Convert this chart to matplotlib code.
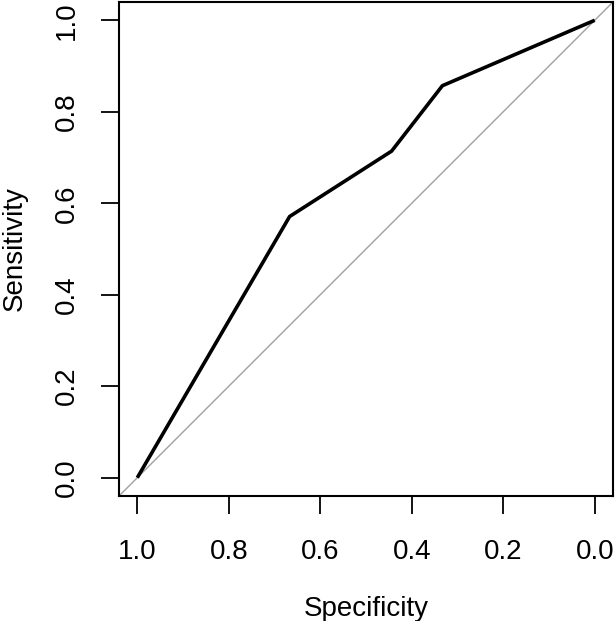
import matplotlib
matplotlib.use("Agg")
import matplotlib.pyplot as plt

specificity = [1.0, 0.667, 0.444, 0.333, 0.0]
sensitivity = [0.0, 0.571, 0.714, 0.857, 1.0]
ticks = [1.0, 0.8, 0.6, 0.4, 0.2, 0.0]
tick_labels = ["1.0", "0.8", "0.6", "0.4", "0.2", "0.0"]

plt.rcParams['font.family'] = ['Liberation Sans', 'DejaVu Sans']

fig = plt.figure(figsize=(6.15, 6.21), dpi=100)
W, H = 615, 621
ax = fig.add_axes([119/W, 1-496/H, (613-119)/W, (496-2)/H])

ax.set_xlim(1.04, -0.04)
ax.set_ylim(-0.04, 1.04)
ax.axline((1, 0), (0, 1), color='#a0a0a0', lw=1.0, zorder=1)
ax.plot(specificity, sensitivity, color='black', lw=2.6, zorder=2, solid_capstyle='butt')

ax.set_xticks(ticks)
ax.set_xticklabels(tick_labels)
ax.set_yticks(ticks)
ax.set_yticklabels(tick_labels, rotation=90, va='center')
ax.tick_params(axis='both', length=13, width=1.3, labelsize=20, direction='out')
ax.tick_params(axis='x', pad=18)
ax.tick_params(axis='y', pad=15)
for s in ax.spines.values():
    s.set_linewidth(1.5)

ax.set_xlabel("Specificity", fontsize=20, labelpad=22)
ax.set_ylabel("Sensitivity", fontsize=20, labelpad=19)

fig.savefig("out.png", dpi=100)
